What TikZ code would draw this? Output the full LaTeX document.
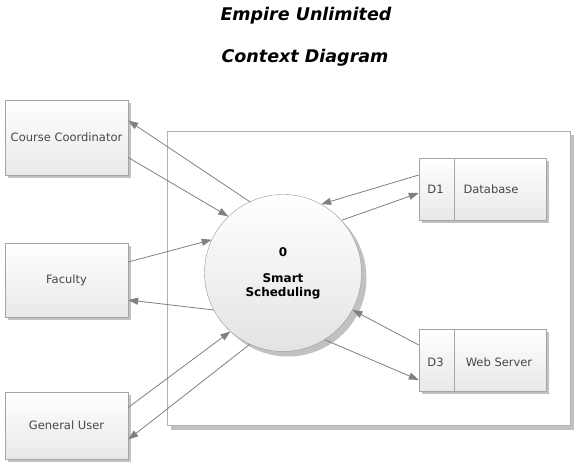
\documentclass[tikz,border=0pt]{standalone}
\usepackage{fontspec}
\setmainfont{DejaVu Sans}
\usetikzlibrary{shadows,arrows.meta}
\tikzset{
  entity/.style = {draw=gray!70, top color=white, bottom color=gray!18,
    minimum width=123pt, text=black!72, font=\fontsize{11.5}{14}\selectfont,
    drop shadow={shadow xshift=3pt, shadow yshift=-3pt, fill=gray!80, opacity=.6}},
  store/.style = {entity, minimum width=127pt, minimum height=62pt},
  label/.style = {text=black!72, font=\fontsize{11.5}{14}\selectfont},
  flow/.style = {draw=gray, line width=.8pt, -{Triangle[length=10pt,width=7pt]}}
}
\begin{document}
\begin{tikzpicture}[x=1pt, y=-1pt]
  \useasboundingbox (0,0) rectangle (584,470);
  % titles
  \node[font=\fontsize{17.5}{20}\selectfont\bfseries\itshape] (title) at (306,16) {Empire Unlimited};
  \node[font=\fontsize{17.5}{20}\selectfont\bfseries\itshape] (subtitle) at (305,58) {Context Diagram};
  % system boundary
  \node[draw=gray!60, fill=white, minimum width=403pt, minimum height=294pt,
    drop shadow={shadow xshift=4pt, shadow yshift=-4pt, fill=gray!80, opacity=.6}] (sys) at (368.5,278.5) {};
  % external entities
  \node[entity, minimum height=75pt] (cc) at (66.5,137.5) {Course Coordinator};
  \node[entity, minimum height=74pt] (fac) at (66.5,280) {Faculty};
  \node[entity, minimum height=67pt] (gu) at (66.5,425.5) {General User};
  % process
  \node[circle, draw=gray!80, top color=white, bottom color=gray!22, minimum size=157pt,
    align=center, font=\fontsize{12}{14}\selectfont\bfseries,
    drop shadow={shadow xshift=5pt, shadow yshift=-5pt, fill=gray!80, opacity=.6}] (proc) at (283,273)
    {0\\[12pt]Smart\\Scheduling};
  % data stores
  \node[store] (db) at (482.5,189) {};
  \draw[gray!70] ([xshift=35pt]db.north west) -- ([xshift=35pt]db.south west);
  \node[label] (dbid) at (435.5,189) {D1};
  \node[label] (dbname) at (491,189) {Database};
  \node[store] (web) at (482.5,360) {};
  \draw[gray!70] ([xshift=35pt]web.north west) -- ([xshift=35pt]web.south west);
  \node[label] (webid) at (435.5,362) {D3};
  \node[label] (webname) at (499,362) {Web Server};
  % flows
  \draw[flow] (proc.115) -- ([yshift=17pt]cc.east);
  \draw[flow] ([yshift=-20pt]cc.east) -- (proc.134);
  \draw[flow] ([yshift=18pt]fac.east) -- (proc.155);
  \draw[flow] (proc.208) -- ([yshift=-20pt]fac.east);
  \draw[flow] ([yshift=18pt]gu.east) -- (proc.228);
  \draw[flow] (proc.245) -- ([yshift=-14pt]gu.east);
  \draw[flow] ([yshift=14pt]db.west) -- (proc.61);
  \draw[flow] (proc.42) -- ([yshift=-4pt]db.west);
  \draw[flow] ([yshift=15pt]web.west) -- (proc.-28);
  \draw[flow] (proc.-58) -- ([yshift=-20pt]web.west);
\end{tikzpicture}
\end{document}
